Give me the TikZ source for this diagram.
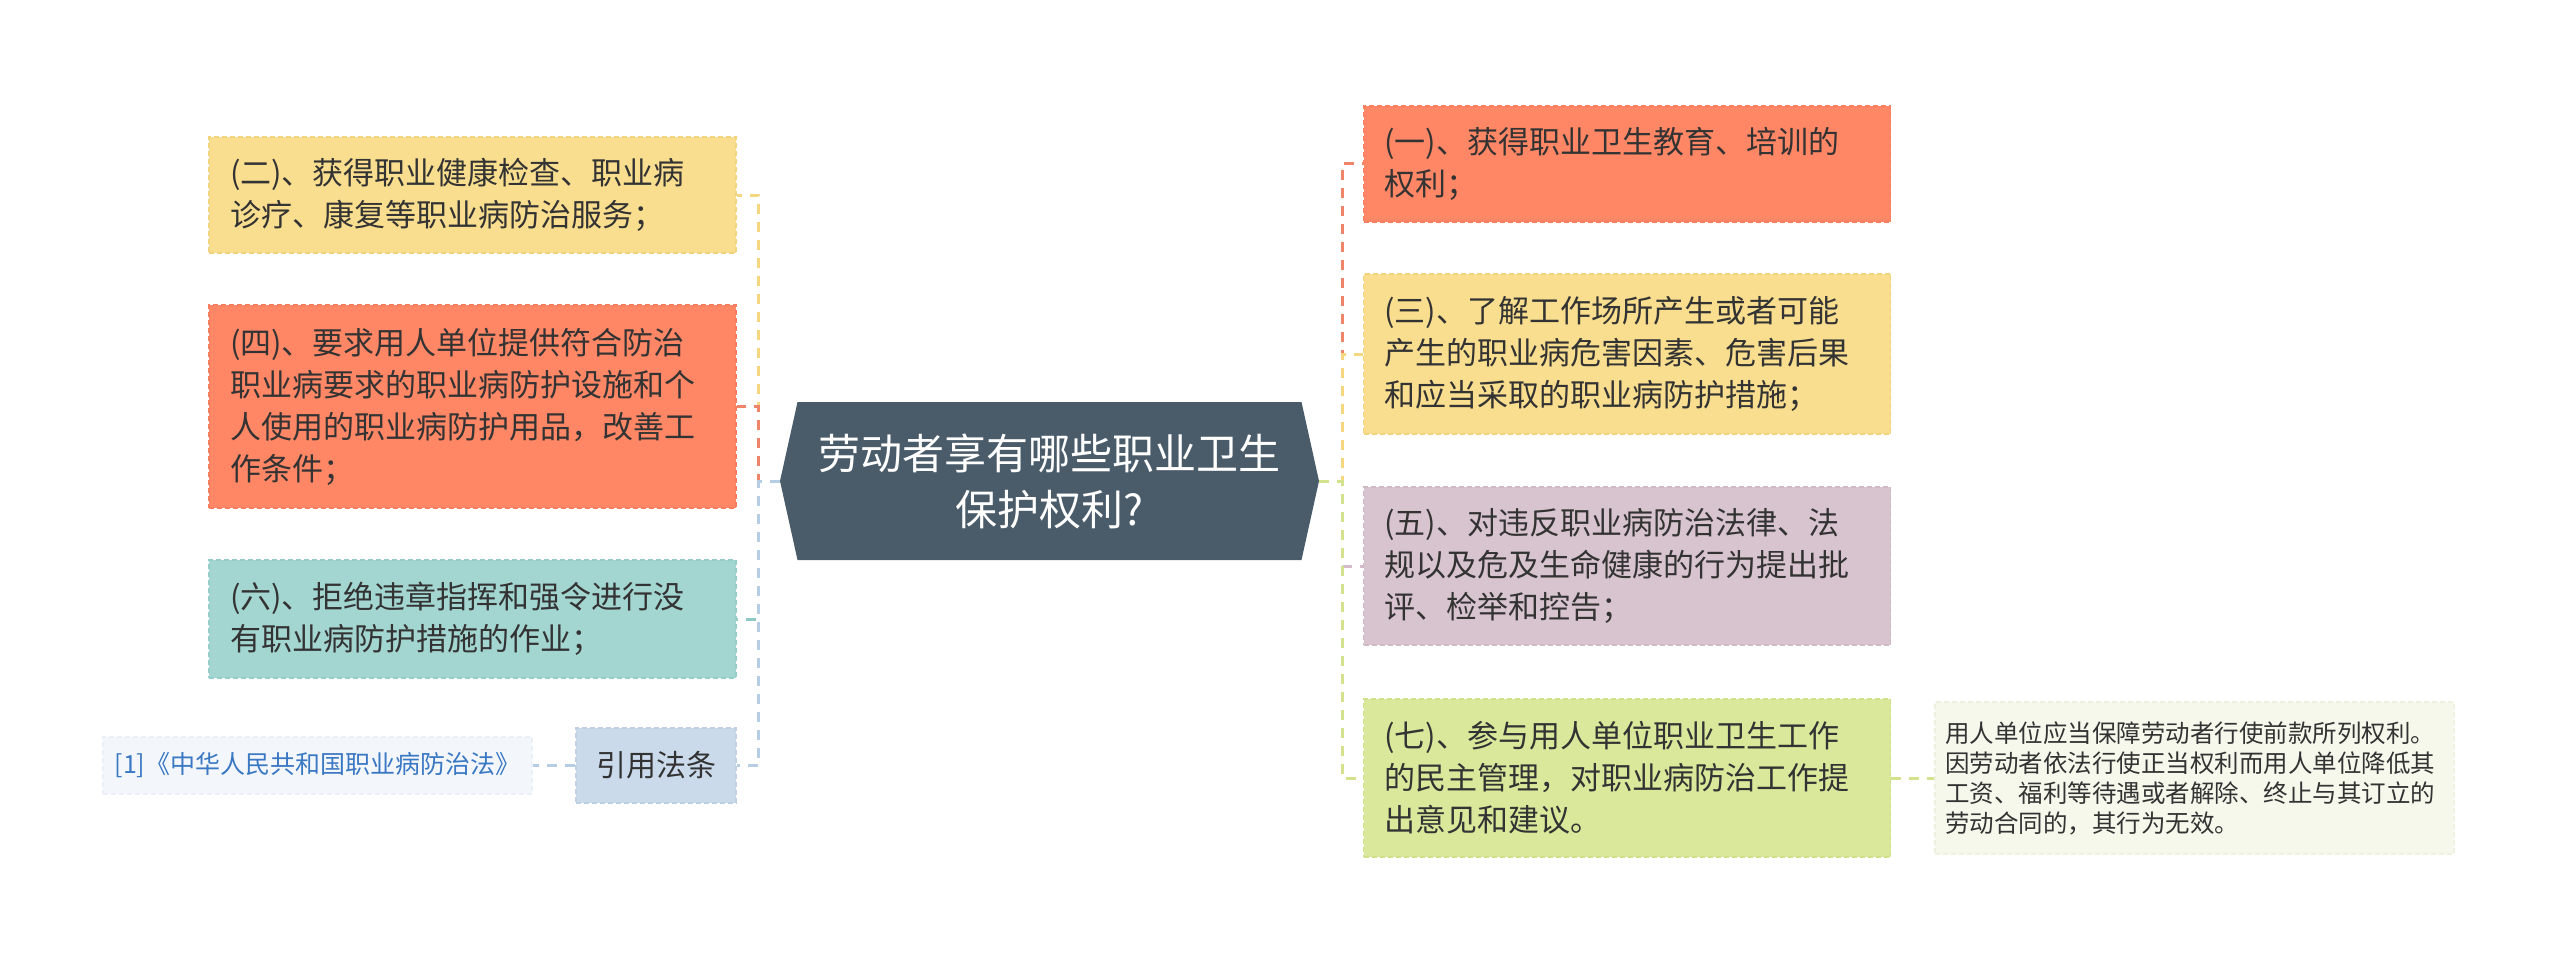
\documentclass[tikz,border=0pt]{standalone}
\usepackage{fontspec}
\setmainfont{Noto Sans CJK SC}
\usetikzlibrary{shapes.symbols}
\definecolor{yfill}{HTML}{F9DE8F}\definecolor{ydraw}{HTML}{F2D27A}
\definecolor{ofill}{HTML}{FF8766}\definecolor{odraw}{HTML}{F77E5E}
\definecolor{tfill}{HTML}{A3D5D1}\definecolor{tdraw}{HTML}{95CDC8}
\definecolor{mfill}{HTML}{D8C4CE}\definecolor{mdraw}{HTML}{CFB9C5}
\definecolor{gfill}{HTML}{DAE89B}\definecolor{gdraw}{HTML}{D0E08A}
\definecolor{bfill}{HTML}{CADAEB}\definecolor{bdraw}{HTML}{BDD0E4}
\definecolor{nfill}{HTML}{F6F8EC}\definecolor{ndraw}{HTML}{EEF1E0}
\definecolor{rfill}{HTML}{F3F7FB}\definecolor{rdraw}{HTML}{EAF0F7}
\definecolor{cfill}{HTML}{4A5B6A}
\definecolor{txt}{HTML}{333333}
\definecolor{reftxt}{HTML}{3A78C3}
\definecolor{cy}{HTML}{F5D77F}\definecolor{co}{HTML}{F08468}
\definecolor{ct}{HTML}{8FC9C4}\definecolor{cb}{HTML}{B7CDE3}
\definecolor{cm}{HTML}{D4BCCA}\definecolor{cg}{HTML}{D2E28D}
\tikzset{
  topicbox/.style={rectangle, line width=1.5pt, dash pattern=on 5pt off 3pt,
    inner xsep=21pt, inner ysep=0pt, text width=485pt, align=left,
    font=\fontsize{31}{42}\selectfont, text=txt},
  conn/.style={line width=3pt, dash pattern=on 10pt off 8pt},
}
\begin{document}
\begin{tikzpicture}[x=1pt,y=-1pt]
\useasboundingbox (0,0) rectangle (2560,963);
% center
\node[signal, signal to=west and east, signal pointer angle=155, fill=cfill,
  minimum width=539pt, minimum height=158pt, inner sep=0pt, align=center,
  text=white, font=\fontsize{42}{56}\selectfont] (c) at (1049.5,481)
  {劳动者享有哪些职业卫生\\保护权利?};
% left
\node[topicbox, fill=yfill, draw=ydraw, minimum height=116pt] (n2) at (472.5,195)
  {(二)、获得职业健康检查、职业病\\诊疗、康复等职业病防治服务；};
\node[topicbox, fill=ofill, draw=odraw, minimum height=203pt] (n4) at (472.5,406.5)
  {(四)、要求用人单位提供符合防治\\职业病要求的职业病防护设施和个\\人使用的职业病防护用品，改善工\\作条件；};
\node[topicbox, fill=tfill, draw=tdraw, minimum height=118pt] (n6) at (472.5,619)
  {(六)、拒绝违章指挥和强令进行没\\有职业病防护措施的作业；};
\node[rectangle, fill=bfill, draw=bdraw, line width=1.5pt, dash pattern=on 5pt off 3pt,
  minimum width=160pt, minimum height=75pt, inner sep=0pt,
  font=\fontsize{30}{36}\selectfont, text=txt] (cite) at (656,765.5) {引用法条};
\node[rectangle, fill=rfill, draw=rdraw, line width=1.5pt, dash pattern=on 5pt off 3pt,
  minimum width=429pt, minimum height=57pt, inner sep=0pt,
  font=\fontsize{25}{30}\selectfont, text=reftxt] (ref) at (317.5,765.5)
  {[1]《中华人民共和国职业病防治法》};
% right
\node[topicbox, fill=ofill, draw=odraw, minimum height=116pt] (n1) at (1627,164)
  {(一)、获得职业卫生教育、培训的\\权利；};
\node[topicbox, fill=yfill, draw=ydraw, minimum height=160pt] (n3) at (1627,354)
  {(三)、了解工作场所产生或者可能\\产生的职业病危害因素、危害后果\\和应当采取的职业病防护措施；};
\node[topicbox, fill=mfill, draw=mdraw, minimum height=158pt] (n5) at (1627,566)
  {(五)、对违反职业病防治法律、法\\规以及危及生命健康的行为提出批\\评、检举和控告；};
\node[topicbox, fill=gfill, draw=gdraw, minimum height=158pt] (n7) at (1627,778)
  {(七)、参与用人单位职业卫生工作\\的民主管理，对职业病防治工作提\\出意见和建议。};
\node[rectangle, fill=nfill, draw=ndraw, line width=1.5pt, dash pattern=on 5pt off 3pt,
  minimum height=152pt, inner xsep=10pt, inner ysep=0pt, text width=499pt, align=left,
  font=\fontsize{24.5}{30}\selectfont, text=txt] (note) at (2194.5,778)
  {用人单位应当保障劳动者行使前款所列权利。\\因劳动者依法行使正当权利而用人单位降低其\\工资、福利等待遇或者解除、终止与其订立的\\劳动合同的，其行为无效。};
% connectors left
\draw[conn, draw=cy] (c.west) -- ++(-21,0) |- (n2.east);
\draw[conn, draw=co] (c.west) -- ++(-21,0) |- (n4.east);
\draw[conn, draw=ct] (c.west) -- ++(-21,0) |- (n6.east);
\draw[conn, draw=cb] (c.west) -- ++(-21,0) |- (cite.east);
\draw[conn, draw=cb] (cite.west) -- (ref.east);
% connectors right
\draw[conn, draw=co] (c.east) -- ++(23,0) |- (n1.west);
\draw[conn, draw=cy] (c.east) -- ++(23,0) |- (n3.west);
\draw[conn, draw=cm] (c.east) -- ++(23,0) |- (n5.west);
\draw[conn, draw=cg] (c.east) -- ++(23,0) |- (n7.west);
\draw[conn, draw=cg] (n7.east) -- (note.west);
\end{tikzpicture}
\end{document}
